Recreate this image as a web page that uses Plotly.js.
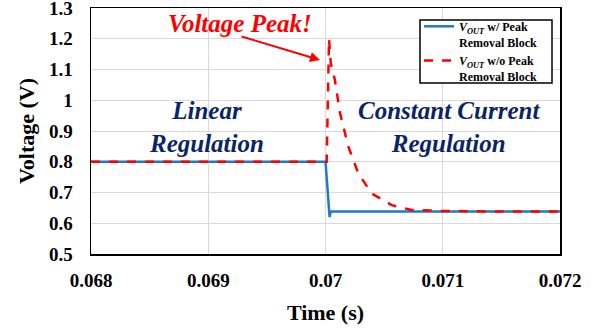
<!DOCTYPE html>
<html><head><meta charset="utf-8">
<script src="https://cdn.plot.ly/plotly-3.0.1.min.js"></script>
<style>html,body{margin:0;padding:0;background:#fff}#chart{width:602px;height:332px}</style>
</head><body><div id="chart"></div>
<script>
// Blue: V_OUT with peak removal block
const timeWith = [0.068, 0.0700, 0.070035, 0.070045, 0.0720];
const voltWith = [0.800, 0.800, 0.620, 0.638, 0.638];
// Red dashed: V_OUT without peak removal block
const timeWithout = [0.068, 0.07001, 0.07003, 0.070045, 0.07008, 0.070124, 0.070195, 0.07028, 0.070394, 0.070565, 0.070735, 0.071, 0.0715, 0.072];
const voltWithout = [0.800, 0.800, 1.200, 1.120, 1.066, 0.958, 0.849, 0.762, 0.697, 0.659, 0.643, 0.640, 0.638, 0.638];
const xTicks = [0.068, 0.069, 0.07, 0.071, 0.072];
const xTickText = ['0.068', '0.069', '0.07', '0.071', '0.072'];
const yTicks = [0.5, 0.6, 0.7, 0.8, 0.9, 1, 1.1, 1.2, 1.3];
const yTickText = ['0.5', '0.6', '0.7', '0.8', '0.9', '1', '1.1', '1.2', '1.3'];

const serif = 'Liberation Serif';
const navy = '#0b2466';
const px = v => (v - 91) / 469;      // paper x from pixel
const py = v => 1 - (v - 8) / 246;   // paper y from pixel

const traces = [
  {x: timeWith, y: voltWith, mode: 'lines', name: '<b><i>V</i><sub><i>OUT</i></sub> w/ Peak<br>Removal Block</b>',
   line: {color: '#1f78c8', width: 2.5}},
  {x: timeWithout, y: voltWithout, mode: 'lines', name: '<b><i>V</i><sub><i>OUT</i></sub> w/o Peak<br>Removal Block</b>',
   line: {color: '#ff0000', width: 2.5, dash: 'dash'}}
];

const layout = {
  width: 602, height: 332,
  margin: {l: 91, r: 42, t: 8, b: 78},
  paper_bgcolor: '#fff', plot_bgcolor: '#fff',
  showlegend: true,
  legend: {x: px(419), y: py(12), xanchor: 'left', yanchor: 'top', bgcolor: 'rgba(0,0,0,0)',
    borderwidth: 0, valign: 'top', tracegroupgap: 0,
    font: {family: serif, size: 12, color: '#000'}},
  shapes: [
    {type: 'rect', xref: 'paper', yref: 'paper', x0: px(420), x1: px(552), y0: py(83), y1: py(20),
     fillcolor: '#fff', line: {color: '#000', width: 1.5}, layer: 'above'}
  ],
  xaxis: {range: [0.068, 0.072], tickvals: xTicks, ticktext: xTickText,
    showgrid: true, gridcolor: '#d9d9d9', gridwidth: 1, zeroline: false,
    showline: true, linecolor: '#000', linewidth: 1.5, mirror: true, ticks: '',
    ticklabelstandoff: 9,
    tickfont: {family: serif, size: 19, color: '#000', weight: 'bold'},
    title: {text: '<b>Time (s)</b>', font: {family: serif, size: 22, color: '#000'}, standoff: 14}},
  yaxis: {range: [0.5, 1.3], tickvals: yTicks, ticktext: yTickText,
    showgrid: true, gridcolor: '#d9d9d9', gridwidth: 1, zeroline: false,
    showline: true, linecolor: '#000', linewidth: 1.5, mirror: true, ticks: '',
    ticklabeloverflow: 'allow', ticklabelstandoff: 13,
    tickfont: {family: serif, size: 19, color: '#000', weight: 'bold'},
    title: {text: '<b>Voltage (V)</b>', font: {family: serif, size: 22, color: '#000'}, standoff: 8}},
  annotations: [
    {xref: 'paper', yref: 'paper', x: px(240), y: py(23), text: '<b><i>Voltage Peak!</i></b>',
     showarrow: false, font: {family: serif, size: 25, color: '#ff0000'}, xanchor: 'center', yanchor: 'middle'},
    {xref: 'x', yref: 'y', x: 0.069953, y: 1.131, text: '', showarrow: true, ax: -80, ay: -24,
     arrowcolor: '#ff0000', arrowwidth: 2, arrowhead: 2, arrowsize: 1},
    {xref: 'paper', yref: 'paper', x: px(206), y: py(127), text: '<b><i>Linear<br>Regulation</i></b>',
     showarrow: false, font: {family: serif, size: 25, color: navy}, xanchor: 'center', yanchor: 'middle'},
    {xref: 'paper', yref: 'paper', x: px(449), y: py(127), text: '<b><i>Constant Current<br>Regulation</i></b>',
     showarrow: false, font: {family: serif, size: 25, color: navy}, xanchor: 'center', yanchor: 'middle'}
  ]
};

Plotly.newPlot('chart', traces, layout, {displayModeBar: false, staticPlot: true});
</script>
</body></html>
